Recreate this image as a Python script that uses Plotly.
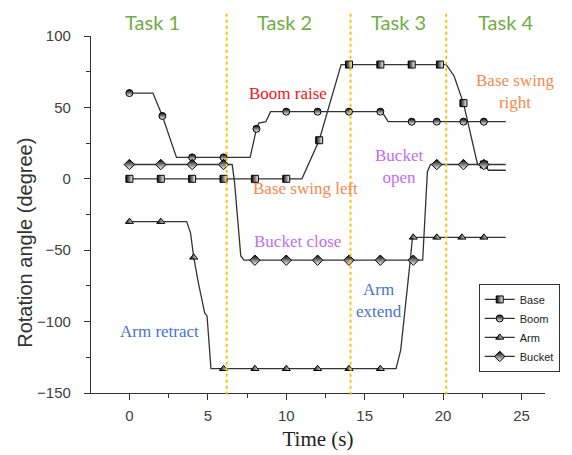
import plotly.graph_objects as go

# ---------------- data ----------------
base_line_x = [0, 11, 12.1, 13.5, 20.2, 20.7, 21.3, 22.2, 22.6, 22.9, 24]
base_line_y = [0, 0, 27, 80, 80, 72, 53, 10, 10, 6, 6]
base_mark_x = [0, 2, 4, 6, 8, 10, 12.1, 14, 16, 18, 19.8, 21.3, 22.6]
base_mark_y = [0, 0, 0, 0, 0, 0, 27, 80, 80, 80, 80, 53, 10]

boom_line_x = [0, 1.5, 2.1, 3.0, 7.7, 8.1, 8.25, 8.7, 9.0, 16.1, 16.5, 24]
boom_line_y = [60, 60, 44, 15, 15, 35, 39, 40, 47, 47, 40, 40]
boom_mark_x = [0, 2.1, 4, 6, 8.1, 10, 12, 14, 16, 18, 19.6, 21.3, 22.6]
boom_mark_y = [60, 44, 15, 15, 35, 47, 47, 47, 47, 40, 40, 40, 40]

arm_line_x = [0, 3.65, 3.9, 4.1, 4.4, 4.8, 4.95, 5.2, 17.0, 17.3, 17.9, 18.05, 24]
arm_line_y = [-30, -30, -38, -55, -73, -94, -96, -133, -133, -120, -58, -41, -41]
arm_mark_x = [0, 2, 4.1, 6, 8, 10, 12, 14, 16, 18.1, 19.6, 21.2, 22.6]
arm_mark_y = [-30, -30, -55, -133, -133, -133, -133, -133, -133, -41, -41, -41, -41]

bucket_line_x = [0, 6.1, 6.55, 6.7, 7.1, 7.3, 18.7, 19.0, 19.2, 24]
bucket_line_y = [10, 10, 10, -2, -54, -57, -57, 5, 10, 10]
bucket_mark_x = [0, 2, 4, 6, 8, 10, 12, 14, 16, 18.1, 19.6, 21.3, 22.6]
bucket_mark_y = [10, 10, 10, 10, -57, -57, -57, -57, -57, -57, 10, 10, 10]

task_bounds = [6.2, 14.1, 20.2]
task_labels = ["Task 1", "Task 2", "Task 3", "Task 4"]
task_label_x = [1.45, 9.9, 17.15, 24.0]

notes = [
    ("Boom raise", 10.1, 60, "#FF1010"),
    ("Base swing left", 11.2, -6.5, "#F5894A"),
    ("Bucket close", 10.7, -44, "#C46CF2"),
    ("Arm retract", 1.9, -107, "#4A72D0"),
    ("Arm<br>extend", 15.9, -85, "#4A72D0"),
    ("Bucket<br>open", 17.2, 8.5, "#C46CF2"),
    ("Base swing<br>right", 24.6, 61, "#F5894A"),
]

series = [
    ("Base", base_line_x, base_line_y, base_mark_x, base_mark_y, "square", "horizontal"),
    ("Boom", boom_line_x, boom_line_y, boom_mark_x, boom_mark_y, "circle", "vertical"),
    ("Arm", arm_line_x, arm_line_y, arm_mark_x, arm_mark_y, "triangle-up", "horizontal"),
    ("Bucket", bucket_line_x, bucket_line_y, bucket_mark_x, bucket_mark_y, "diamond", "vertical"),
]

LINE = "#333333"
fig = go.Figure()
for name, lx, ly, mx, my, sym, grad in series:
    fig.add_trace(go.Scatter(x=lx, y=ly, mode="lines", line=dict(color=LINE, width=1.3),
                             showlegend=False, hoverinfo="skip"))
    mk = dict(symbol=sym, size=7 if sym != "diamond" else 8, color="black",
              gradient=dict(type=grad, color="white"),
              line=dict(color="black", width=1))
    fig.add_trace(go.Scatter(x=mx, y=my, mode="markers", marker=mk, showlegend=False))
    fig.add_trace(go.Scatter(x=[None], y=[None], mode="lines+markers", name=name,
                             line=dict(color=LINE, width=1.3), marker=mk))

for xb in task_bounds:
    fig.add_shape(type="line", xref="x", yref="paper", x0=xb, x1=xb, y0=-0.005, y1=1.064,
                  line=dict(color="#FFC000", width=2, dash="dot"))

for lab, lx in zip(task_labels, task_label_x):
    fig.add_annotation(x=lx, y=1.038, xref="x", yref="paper", text=lab, showarrow=False,
                       font=dict(family="Lato", size=20, color="#70AD47"), yanchor="middle")

for txt, nx, ny, col in notes:
    fig.add_annotation(x=nx, y=ny, text=txt, showarrow=False,
                       font=dict(family="Liberation Serif", size=17, color=col))

# y-axis title, placed a little below the axis centre as in the reference
fig.add_annotation(x=-0.146, y=0.42, xref="paper", yref="paper", text="Rotation angle (degree)",
                   textangle=-90, showarrow=False, xanchor="center", yanchor="middle",
                   font=dict(family="Liberation Sans", size=20, color="#333"))

axis_common = dict(showline=True, linecolor=LINE, linewidth=1.3, ticks="outside",
                   tickcolor=LINE, ticklen=6, tickwidth=1.2, showgrid=False, zeroline=False,
                   automargin=False,
                   tickfont=dict(family="Liberation Sans", size=15, color="#404040"))
fig.update_xaxes(range=[-2.45, 26.5], dtick=5, tick0=0,
                 minor=dict(dtick=2.5, ticks="outside", ticklen=4, tickcolor=LINE),
                 title=dict(text="Time (s)", font=dict(family="Liberation Serif", size=21, color="#222"),
                            standoff=8),
                 ticklabelstandoff=3, **axis_common)
fig.update_yaxes(range=[-150, 100], dtick=50, tick0=0,
                 minor=dict(dtick=25, ticks="outside", ticklen=4, tickcolor=LINE),
                 ticklabelstandoff=10, **axis_common)

# page body adds an 8px offset, so the figure is 8px smaller on each axis
fig.update_layout(
    width=564, height=447, margin=dict(l=83, r=22, t=28, b=62),
    plot_bgcolor="white", paper_bgcolor="white",
    legend=dict(x=0.854, y=0.059, xanchor="left", yanchor="bottom",
                bordercolor="#333", borderwidth=1, bgcolor="white",
                font=dict(family="Liberation Sans", size=11, color="#222"),
                itemwidth=30, tracegroupgap=0),
)
fig.write_html("out.html")
